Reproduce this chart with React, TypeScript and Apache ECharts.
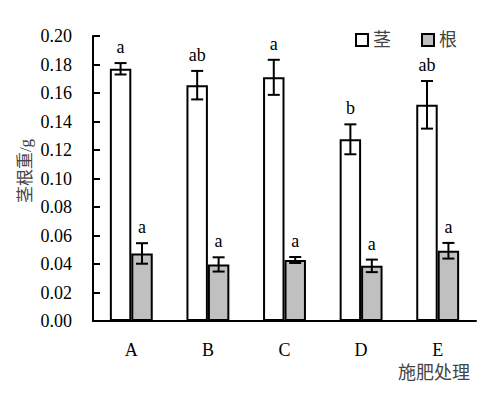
import React, { useEffect, useRef } from "react";
import * as echarts from "echarts";

const categories = ["A", "B", "C", "D", "E"];
const stemMean = [0.177, 0.1655, 0.171, 0.1275, 0.1517];
const stemErr = [0.004, 0.01, 0.0123, 0.0105, 0.0167];
const rootMean = [0.0474, 0.0397, 0.0428, 0.0387, 0.0493];
const rootErr = [0.0072, 0.005, 0.0021, 0.0044, 0.0055];
const stemLetters = ["a", "ab", "a", "b", "ab"];
const rootLetters = ["a", "a", "a", "a", "a"];
const yTicks = [0, 0.02, 0.04, 0.06, 0.08, 0.1, 0.12, 0.14, 0.16, 0.18, 0.2];

const SERIF = '"Liberation Serif", "Times New Roman", serif';
const CJK = '"Liberation Serif", "Noto Sans CJK SC", sans-serif';

function errSeries(name: string, means: number[], errs: number[], letters: string[], offsetFrac: number) {
  return {
    type: "custom",
    name,
    z: 10,
    data: categories.map((_, i) => [i, means[i], errs[i]]),
    encode: { x: 0, y: 1 },
    renderItem: (params: any, api: any) => {
      const i = params.dataIndex;
      const x = api.value(0);
      const m = api.value(1);
      const e = api.value(2);
      const band = api.size([1, 0])[0];
      const c = api.coord([x, m]);
      const cx = c[0] + offsetFrac * band;
      const yTop = api.coord([x, m + e])[1];
      const yBot = api.coord([x, m - e])[1];
      const hw = 6;
      const st = { stroke: "#000", lineWidth: 2 };
      return {
        type: "group",
        children: [
          { type: "line", shape: { x1: cx, y1: yTop, x2: cx, y2: yBot }, style: st },
          { type: "line", shape: { x1: cx - hw, y1: yTop, x2: cx + hw, y2: yTop }, style: st },
          { type: "line", shape: { x1: cx - hw, y1: yBot, x2: cx + hw, y2: yBot }, style: st },
          {
            type: "text",
            x: cx,
            y: yTop - 7,
            style: {
              text: letters[i],
              fill: "#000",
              fontSize: 18,
              fontFamily: SERIF,
              align: "center",
              verticalAlign: "bottom",
            },
          },
        ],
      };
    },
  };
}

export default function App() {
  const ref = useRef<HTMLDivElement>(null);
  useEffect(() => {
    document.body.style.margin = "0";
    const chart = echarts.init(ref.current!, null, { renderer: "svg" });
    chart.setOption({
      animation: false,
      backgroundColor: "#fff",
      grid: { left: 93, right: 24, top: 36, bottom: 75 },
      legend: {
        data: ["茎", "根"],
        left: 355,
        top: 31,
        padding: 0,
        icon: "rect",
        itemWidth: 12,
        itemHeight: 12,
        itemGap: 30,
        textStyle: { fontSize: 18, fontFamily: CJK, color: "#444" },
      },
      xAxis: {
        type: "category",
        data: categories,
        axisLine: { lineStyle: { color: "#000", width: 2 } },
        axisTick: { inside: true, length: 7, lineStyle: { color: "#000", width: 2 } },
        axisLabel: { color: "#000", fontSize: 18, fontFamily: SERIF, margin: 20 },
      },
      yAxis: {
        type: "value",
        min: 0,
        max: 0.2,
        interval: 0.02,
        splitLine: { show: false },
        axisLine: { show: true, lineStyle: { color: "#000", width: 2 } },
        axisTick: { show: true, inside: true, length: 7, lineStyle: { color: "#000", width: 2 } },
        axisLabel: {
          color: "#000",
          fontSize: 18,
          fontFamily: SERIF,
          margin: 21,
          formatter: (v: number) => {
            const t = yTicks.find((k) => Math.abs(k - v) < 1e-9);
            return (t !== undefined ? t : v).toFixed(2);
          },
        },
      },
      graphic: [
        {
          type: "text",
          x: 25,
          y: 171,
          rotation: Math.PI / 2,
          style: {
            text: "茎根重/g",
            fontSize: 17,
            fontFamily: CJK,
            fill: "#444",
            align: "center",
            verticalAlign: "middle",
          },
        },
        {
          type: "text",
          x: 470,
          y: 373,
          style: {
            text: "施肥处理",
            fontSize: 18,
            fontFamily: CJK,
            fill: "#444",
            align: "right",
            verticalAlign: "middle",
          },
        },
      ],
      series: [
        {
          type: "bar",
          name: "茎",
          data: stemMean,
          barWidth: "28%",
          barGap: "0%",
          itemStyle: { color: "#fff", borderColor: "#000", borderWidth: 2 },
        },
        {
          type: "bar",
          name: "根",
          data: rootMean,
          barWidth: "28%",
          barGap: "0%",
          itemStyle: { color: "#c0c0c0", borderColor: "#000", borderWidth: 2 },
        },
        errSeries("茎误差", stemMean, stemErr, stemLetters, -0.14),
        errSeries("根误差", rootMean, rootErr, rootLetters, 0.14),
      ],
    });
    return () => chart.dispose();
  }, []);
  return <div ref={ref} style={{ width: 500, height: 396 }} />;
}
